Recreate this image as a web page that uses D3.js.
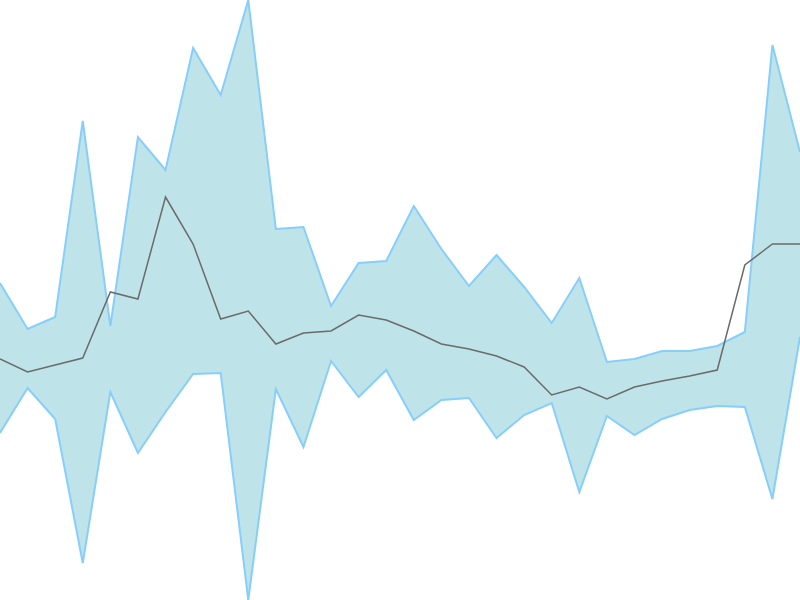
<!DOCTYPE html>
<meta charset="utf-8">
<script src="https://d3js.org/d3.v7.min.js"></script>
<style>
  body { margin: 0; background: #fff; }
</style>
<div id="my_dataviz"></div>
<script>
// chart size: the band fills the whole window, no axes
var width = 800,
    height = 600;

// values (0 = bottom, 600 = top)
var upper = [317, 271, 283, 479, 274, 463, 430, 552, 505, 600,
             371, 373, 294, 337, 339, 394, 351, 314, 345, 313,
             277, 322, 238, 241, 249, 249, 254, 268, 555, 448];
var lower = [167, 212, 181, 37, 208, 147, 188, 226, 227, 0,
             211, 153, 239, 203, 230, 180, 200, 202, 162, 185,
             197, 108, 184, 165, 181, 190, 194, 193, 101, 263];
var middle = [241, 228, 235, 242, 308, 301, 403, 356, 281, 289,
              256, 267, 269, 285, 280, 269, 256, 251, 244, 233,
              205, 213, 201, 213, 219, 224, 230, 335, 356, 356];

var idx = d3.range(upper.length);

var svg = d3.select("#my_dataviz")
  .append("svg")
    .attr("width", width)
    .attr("height", height);

var x = d3.scaleLinear()
  .domain([0, upper.length - 1])
  .range([0, width]);

var y = d3.scaleLinear()
  .domain([0, 600])
  .range([height, 0]);

// band
svg.append("path")
  .datum(idx)
  .attr("fill", "#bee4e9")
  .attr("d", d3.area()
    .x(function(i) { return x(i); })
    .y0(function(i) { return y(lower[i]); })
    .y1(function(i) { return y(upper[i]); }));

// band edges
[upper, lower].forEach(function(s) {
  svg.append("path")
    .datum(idx)
    .attr("fill", "none")
    .attr("stroke", "#87cefa")
    .attr("stroke-width", 2)
    .attr("d", d3.line()
      .x(function(i) { return x(i); })
      .y(function(i) { return y(s[i]); }));
});

// middle line
svg.append("path")
  .datum(idx)
  .attr("fill", "none")
  .attr("stroke", "#6b6b6b")
  .attr("stroke-width", 1.5)
  .attr("d", d3.line()
    .x(function(i) { return x(i); })
    .y(function(i) { return y(middle[i]); }));
</script>
